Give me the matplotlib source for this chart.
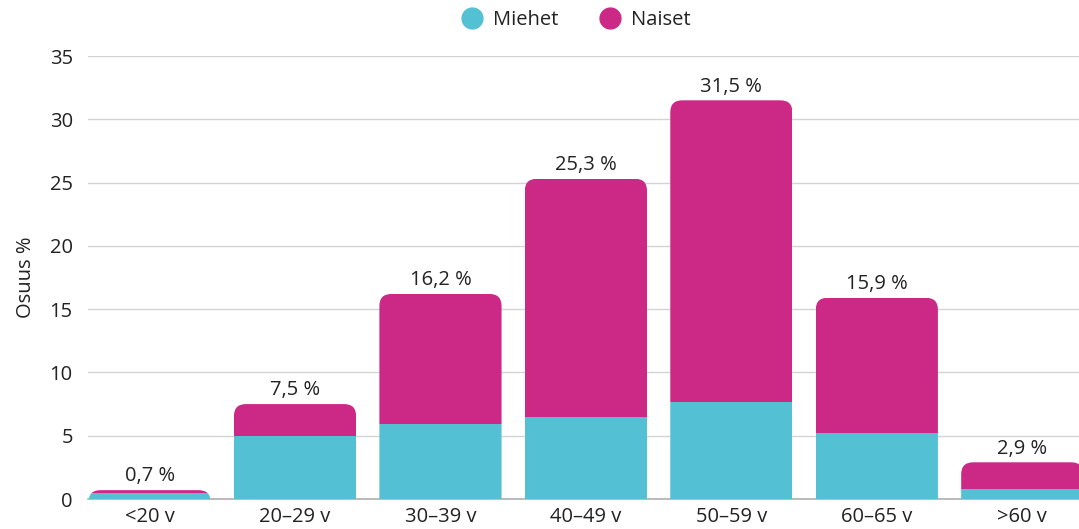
import matplotlib.pyplot as plt
from matplotlib.patches import FancyBboxPatch
from matplotlib.lines import Line2D

plt.rcParams['font.family'] = ['Open Sans', 'DejaVu Sans']

# Data
categories = ['<20 v', '20–29 v', '30–39 v', '40–49 v', '50–59 v', '60–65 v', '>60 v']
miehet = [0.5, 5.0, 5.9, 6.5, 7.7, 5.2, 0.8]
totals = [0.7, 7.5, 16.2, 25.3, 31.5, 15.9, 2.9]
naiset = [t - m for t, m in zip(totals, miehet)]

cyan = '#53C0D4'
pink = '#CC2987'
text_col = '#222222'
fs = 14.5

fig = plt.figure(figsize=(10.79, 5.29), dpi=100)
ax = fig.add_axes([0.0816, 0.0567, 0.9184, 0.8374])

x = list(range(len(categories)))
width = 0.84
b1 = ax.bar(x, miehet, width, color=cyan, label='Miehet', zorder=3)
b2 = ax.bar(x, naiset, width, bottom=miehet, color=pink, label='Naiset', zorder=3)

ax.set_xlim(-0.423, 6.39)
ax.set_ylim(0, 35)

# rounded top corners: clip each stacked bar with a rounded box
fw, fh = fig.get_size_inches() * fig.dpi
pos = ax.get_position()
px_x = pos.width * fw / (6.39 + 0.423)
px_y = pos.height * fh / 35
radius_px = 12
rx = radius_px / px_x
aspect = px_x / px_y
for i, t in enumerate(totals):
    clip = FancyBboxPatch((x[i] - width / 2, -5), width, t + 5,
                          boxstyle=f'round,pad=0,rounding_size={rx}',
                          mutation_aspect=aspect, transform=ax.transData)
    b1[i].set_clip_path(clip)
    b2[i].set_clip_path(clip)

# value labels
for i, t in enumerate(totals):
    ax.text(x[i], t + 0.3, f'{t:.1f} %'.replace('.', ','), ha='center', va='bottom',
            fontsize=fs, color=text_col, zorder=4)

ax.set_yticks(range(0, 36, 5))
ax.set_xticks(x)
ax.set_xticklabels(categories)
ax.tick_params(axis='both', length=0, labelsize=fs, colors=text_col)
ax.tick_params(axis='y', pad=11)
ax.tick_params(axis='x', pad=6)
ax.set_ylabel('Osuus %', fontsize=fs, color=text_col, labelpad=10)

ax.grid(axis='y', color='#d4d4d4', linewidth=1, zorder=0)
for s in ['top', 'right', 'left']:
    ax.spines[s].set_visible(False)
ax.spines['bottom'].set_color('#b0b0b0')
ax.spines['bottom'].set_linewidth(1.2)
ax.spines['bottom'].set_zorder(2)

handles = [Line2D([], [], marker='o', linestyle='none', markersize=15, color=cyan),
           Line2D([], [], marker='o', linestyle='none', markersize=15, color=pink)]
ax.legend(handles, ['Miehet', 'Naiset'], loc='center', bbox_to_anchor=(0.49, 1.082),
          ncol=2, frameon=False, fontsize=fs, handletextpad=0.25, columnspacing=1.75,
          handlelength=1.6, labelcolor=text_col)

fig.savefig('out.png', dpi=100)
